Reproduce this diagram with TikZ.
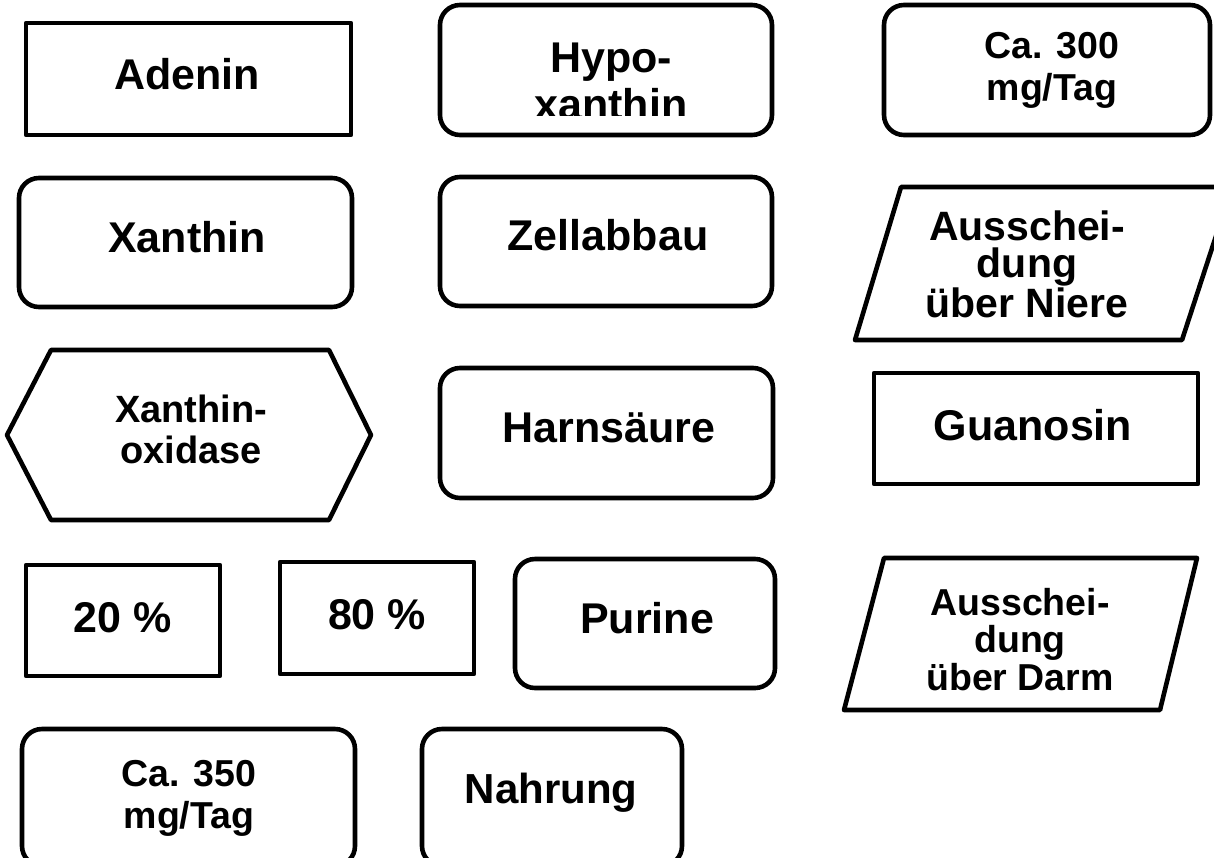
\documentclass[tikz,border=0pt]{standalone}
\usepackage{fontspec}
\setmainfont{Liberation Sans}
\begin{document}
\begin{tikzpicture}[x=1pt,y=-1pt,
  shp/.style={draw=black,line width=4.6pt,line join=round},
  rnd/.style={shp,rounded corners=20pt},
  big/.style={anchor=base,inner sep=0pt,font=\fontsize{43}{47}\selectfont\bfseries},
  med/.style={anchor=base,inner sep=0pt,align=center,font=\fontsize{37.5}{42}\selectfont\bfseries},
  sml/.style={anchor=base,inner sep=0pt,align=center,font=\fontsize{38}{37}\selectfont\bfseries}]
\useasboundingbox (0,0) rectangle (1214,857);
\begin{scope}
\clip (0,0) rectangle (1214,857);
% Adenin
\draw[shp] (26,23) rectangle (351,135);
\node[big] (adenin) at (187,89) {Adenin};
% Hypo-xanthin
\draw[rnd] (440,5) rectangle (772,135);
\begin{scope}
\clip (430,0) rectangle (780,115);
\node[big,align=center] (hypo) at (611,119) {Hypo-\\xanthin};
\end{scope}
% Ca. 300
\draw[rnd] (884,5) rectangle (1210,135);
\node[med] (ca300) at (1052,100) {Ca. 300\\mg/Tag};
% Xanthin
\draw[rnd] (19,178) rectangle (352,307);
\node[big] (xanthin) at (187,252) {Xanthin};
% Zellabbau
\draw[rnd] (440,177) rectangle (772,306);
\node[big] (zell) at (608,250) {Zellabbau};
% Ausscheidung ueber Niere
\draw[shp] (901,187) -- (1232,187) -- (1182,340) -- (855,340) -- cycle;
\node[sml,font=\fontsize{41}{37}\selectfont\bfseries] (niere) at (1027,317) {Ausschei-\\dung\\über Niere};
% Xanthinoxidase
\draw[shp] (7,435) -- (51,350) -- (329,350) -- (371,435) -- (329,520) -- (51,520) -- cycle;
\node[sml,font=\fontsize{38}{41}\selectfont\bfseries] (xo) at (191,463) {Xanthin-\\oxidase};
% Harnsaeure
\draw[rnd] (440,368) rectangle (773,498);
\node[big] (harn) at (609,442) {Harnsäure};
% Guanosin
\draw[shp] (874,373) rectangle (1198,484);
\node[big] (guan) at (1033,440) {Guanosin};
% 20 %
\draw[shp] (26,565) rectangle (220,676);
\node[big] (p20) at (123,632) {20 \%};
% 80 %
\draw[shp] (280,562) rectangle (474,674);
\node[big] (p80) at (377,629) {80 \%};
% Purine
\draw[rnd] (515,559) rectangle (775,688);
\node[big] (purine) at (647,633) {Purine};
% Ausscheidung ueber Darm
\draw[shp] (884,558) -- (1197,558) -- (1160,710) -- (844,710) -- cycle;
\node[sml,font=\fontsize{37.5}{37.5}\selectfont\bfseries] (darm) at (1020,690) {Ausschei-\\dung\\über Darm};
% Ca. 350
\draw[rnd] (22,729) rectangle (355,866);
\node[med] (ca350) at (189,828) {Ca. 350\\mg/Tag};
% Nahrung
\draw[rnd] (422,729) rectangle (682,866);
\node[med,font=\fontsize{42}{46}\selectfont\bfseries] (nahrung) at (551,803) {Nahrung};
\end{scope}
\end{tikzpicture}
\end{document}
